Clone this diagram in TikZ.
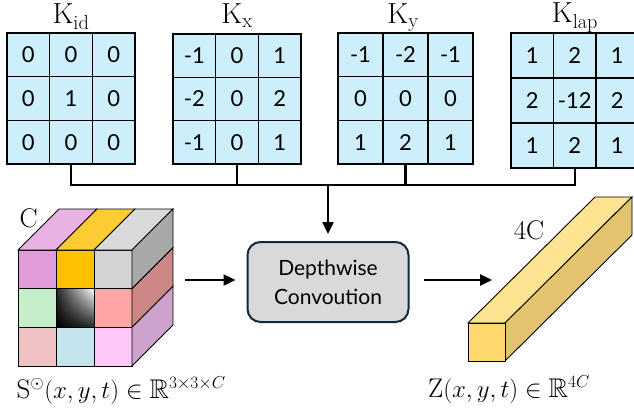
\documentclass[tikz,border=0pt]{standalone}
\usepackage{fontspec}
\usepackage{amssymb}
\usetikzlibrary{arrows.meta,shadings}
\newfontfamily\cellfont{Lato}

\definecolor{kblue}{HTML}{CDEEFB}
\definecolor{convfill}{HTML}{D9D9D9}
\definecolor{convline}{HTML}{12293A}
% cube colours
\definecolor{cubeA}{HTML}{E39CDA}
\definecolor{cubeB}{HTML}{FFC000}
\definecolor{cubeC}{HTML}{D3D3D3}
\definecolor{cubeD}{HTML}{C5EFCB}
\definecolor{cubeF}{HTML}{FFA5A5}
\definecolor{cubeG}{HTML}{EEC2C2}
\definecolor{cubeH}{HTML}{C4E5EE}
\definecolor{cubeI}{HTML}{FDC8F7}
\definecolor{topA}{HTML}{E8B2E3}
\definecolor{topB}{HTML}{FFCB33}
\definecolor{topC}{HTML}{DADADA}
\definecolor{sideA}{HTML}{A8A8A8}
\definecolor{sideB}{HTML}{CC8686}
\definecolor{sideC}{HTML}{CDA3CB}
% output bar
\definecolor{barfront}{HTML}{FDD96E}
\definecolor{bartop}{HTML}{FDE28F}
\definecolor{barside}{HTML}{E2C470}

\tikzset{
  kcell/.style={draw=black, line width=1.4pt, fill=kblue, inner sep=0pt,
    font=\cellfont\fontsize{22}{26}\selectfont},
  ktitle/.style={anchor=base, font=\fontsize{29}{34}\selectfont},
  wire/.style={line width=2.4pt},
  arr/.style={wire, -{Triangle[length=12pt,width=11pt]}},
  convbox/.style={draw=convline, line width=2pt, fill=convfill,
    rounded corners=13pt, minimum width=161pt, minimum height=80pt,
    align=center, font=\cellfont\fontsize{21}{29}\selectfont},
  face/.style={draw=black, line width=0.9pt},
  mathlabel/.style={font=\fontsize{27}{32}\selectfont},
}

% name, left, top, cell width, cell height, values
\newcommand\kgrid[6]{%
  \foreach \v [count=\i from 0] in {#6} {
    \pgfmathtruncatemacro\rr{\i/3}
    \pgfmathtruncatemacro\cc{\i-3*\rr}
    \node[kcell, minimum width=#4pt, minimum height=#5pt]
      (#1-\rr\cc) at ({#2+#4*(\cc+0.5)},{#3+#5*(\rr+0.5)}) {\v};
  }%
}

\begin{document}
\begin{tikzpicture}[x=1pt,y=-1pt]
  \useasboundingbox (0,0) rectangle (634,412);

  % Kernels
  \kgrid{kid}{7}{33}{42.7}{43.7}{0,0,0,0,1,0,0,0,0}
  \kgrid{kx}{173}{34}{42.7}{43.3}{-1,0,1,-2,0,2,-1,0,1}
  \kgrid{ky}{338}{33}{45}{43.7}{-1,-2,-1,0,0,0,1,2,1}
  \kgrid{klap}{511}{33}{42.5}{45}{1,2,1,2,-12,2,1,2,1}
  \node[ktitle] (tid) at (71,24) {$\mathrm{K}_{\mathrm{id}}$};
  \node[ktitle] (tx) at (237,24) {$\mathrm{K}_{\mathrm{x}}$};
  \node[ktitle] (ty) at (403,24) {$\mathrm{K}_{\mathrm{y}}$};
  \node[ktitle] (tlap) at (575,23) {$\mathrm{K}_{\mathrm{lap}}$};

  % Bus to the convolution
  \coordinate (bus) at (328,185);
  \foreach \g in {kid,kx,ky,klap}
    \draw[wire] (\g-21.south) -- (\g-21.south |- bus);
  \draw[wire, line cap=rect] (kid-21.south |- bus) -- (klap-21.south |- bus);

  \node[convbox] (conv) at (328,282) {Depthwise\\Convoution};
  \draw[arr, shorten >=7pt] (bus) -- (conv.north);

  % Input cube
  \foreach \cubecol [count=\i from 0] in {cubeA,cubeB,cubeC,cubeD,black,cubeF,cubeG,cubeH,cubeI} {
    \pgfmathtruncatemacro\rr{\i/3}
    \pgfmathtruncatemacro\cc{\i-3*\rr}
    \draw[face, fill=\cubecol] ({18+38*\cc},{250+38.67*\rr}) rectangle ++(38,38.67);
  }
  \shade[upper right=white, upper left=black!85, lower left=black, lower right=black!85]
    (56,288.67) rectangle ++(38,38.67);
  \draw[face] (56,288.67) rectangle ++(38,38.67);
  \foreach \cubecol [count=\i from 0] in {topA,topB,topC}
    \draw[face, fill=\cubecol] ({18+38*\i},250) -- ++(41,-41) -- ++(38,0) -- ++(-41,41) -- cycle;
  \foreach \cubecol [count=\i from 0] in {sideA,sideB,sideC}
    \draw[face, fill=\cubecol] (132,{250+38.67*\i}) -- ++(41,-41) -- ++(0,38.67) -- ++(-41,41) -- cycle;
  \node[mathlabel, anchor=base west] (cin) at (16,227) {C};
  \node[mathlabel, anchor=base west] (sin) at (13,398)
    {$\mathrm{S}^{\odot}(x,y,t)\in\mathbb{R}^{3\times3\times C}$};
  \coordinate (cubeE) at (185,280);
  \draw[arr, shorten >=11pt] (cubeE) -- (cubeE -| conv.west);

  % Output bar
  \draw[face, fill=bartop] (468,323) -- ++(127,-126) -- ++(37,0) -- (505,323) -- cycle;
  \draw[face, fill=barside] (505,323) -- ++(127,-126) -- ++(0,38) -- (505,361) -- cycle;
  \draw[face, fill=barfront] (468,323) rectangle (505,361);
  \node[mathlabel, anchor=base] (cout) at (529,239) {4C};
  \node[mathlabel, anchor=base] (zout) at (509,397)
    {$\mathrm{Z}(x,y,t)\in\mathbb{R}^{4C}$};
  \coordinate (barW) at (492,280);
  \draw[arr, shorten <=14pt] (conv.east |- barW) -- (barW);
\end{tikzpicture}
\end{document}
